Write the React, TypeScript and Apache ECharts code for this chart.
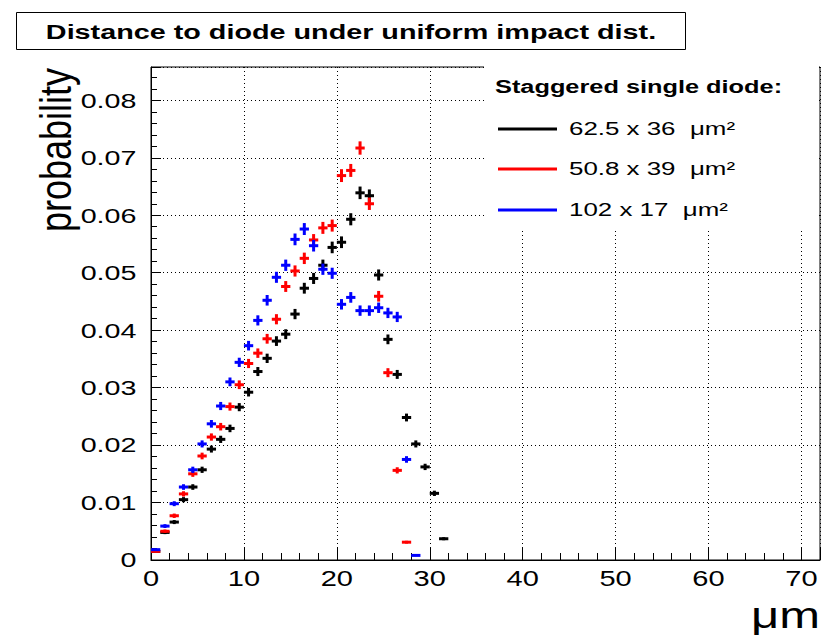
import React, { useEffect, useRef } from "react";
import * as echarts from "echarts";

// ---- data ----
const binCenters = [
  0.5, 1.5, 2.5, 3.5, 4.5, 5.5, 6.5, 7.5, 8.5, 9.5,
  10.5, 11.5, 12.5, 13.5, 14.5, 15.5, 16.5, 17.5, 18.5, 19.5,
  20.5, 21.5, 22.5, 23.5, 24.5, 25.5, 26.5, 27.5, 28.5, 29.5,
  30.5, 31.5,
];
const blackVals = [
  0.0015, 0.0048, 0.0066, 0.0105, 0.0127, 0.0157, 0.0193, 0.0210, 0.0229, 0.0266,
  0.0292, 0.0328, 0.0351, 0.0381, 0.0393, 0.0428, 0.0473, 0.0490, 0.0513, 0.0544,
  0.0553, 0.0593, 0.0639, 0.0634, 0.0496, 0.0384, 0.0323, 0.0248, 0.0202, 0.0162,
  0.0116, 0.0037,
];
const redVals = [
  0.0015, 0.0050, 0.0077, 0.0115, 0.0150, 0.0181, 0.0214, 0.0232, 0.0267, 0.0305,
  0.0342, 0.0360, 0.0385, 0.0419, 0.0476, 0.0503, 0.0525, 0.0557, 0.0578, 0.0582,
  0.0669, 0.0678, 0.0717, 0.0620, 0.0459, 0.0326, 0.0156, 0.0031,
];
const blueVals = [
  0.0018, 0.0059, 0.0098, 0.0127, 0.0157, 0.0202, 0.0237, 0.0268, 0.0310, 0.0344,
  0.0373, 0.0417, 0.0452, 0.0492, 0.0513, 0.0558, 0.0576, 0.0547, 0.0506, 0.0499,
  0.0445, 0.0457, 0.0434, 0.0434, 0.0439, 0.0430, 0.0423, 0.0175, 0.0008,
];
const seriesNames = ["62.5 x 36  \u03bcm\u00b2", "50.8 x 39  \u03bcm\u00b2", "102 x 17  \u03bcm\u00b2"];
const seriesColors = ["#000000", "#ff0000", "#0000ff"];
const xTickValues = [0, 10, 20, 30, 40, 50, 60, 70];
const xTickLabels = ["0", "10", "20", "30", "40", "50", "60", "70"];
const yTickValues = [0, 0.01, 0.02, 0.03, 0.04, 0.05, 0.06, 0.07, 0.08];
const yTickLabels = ["0", "0.01", "0.02", "0.03", "0.04", "0.05", "0.06", "0.07", "0.08"];
const titleText = "Distance to diode under uniform impact dist.";
const legendHeader = "Staggered single diode:";
const xTitle = "\u03bcm";
const yTitle = "probability";

const BIN_WIDTH = 1;
const ERR_SCALE = 0.00433; // statistical error ~ ERR_SCALE * sqrt(p)

const FONT = "'Liberation Sans', Arial, Helvetica, sans-serif";

function makeSeries(name: string, vals: number[], color: string) {
  return {
    type: "custom",
    name,
    xAxisIndex: 0,
    yAxisIndex: 0,
    clip: false,
    data: vals.map((v, i) => [binCenters[i], v]),
    encode: { x: 0, y: 1 },
    renderItem: (params: any, api: any) => {
      const x = api.value(0);
      const y = api.value(1);
      const err = ERR_SCALE * Math.sqrt(y);
      const l = api.coord([x - BIN_WIDTH / 2, y]);
      const r = api.coord([x + BIN_WIDTH / 2, y]);
      const t = api.coord([x, y + err]);
      const b = api.coord([x, y - err]);
      return {
        type: "group",
        children: [
          { type: "line", shape: { x1: l[0], y1: l[1], x2: r[0], y2: r[1] }, style: { stroke: color, lineWidth: 3 } },
          { type: "line", shape: { x1: t[0], y1: t[1], x2: b[0], y2: b[1] }, style: { stroke: color, lineWidth: 3 } },
        ],
      };
    },
  };
}

function txt(opts: any) {
  const { text, x, y, font, align, valign, scaleX, scaleY, rotation, z } = opts;
  return {
    type: "text",
    x,
    y,
    scaleX: scaleX ?? 1,
    scaleY: scaleY ?? 1,
    rotation: rotation ?? 0,
    z: z ?? 20,
    style: {
      text,
      font,
      fill: "#000",
      align,
      textAlign: align,
      verticalAlign: valign ?? "middle",
      textVerticalAlign: valign ?? "middle",
    },
  };
}

export default function App() {
  const ref = useRef<HTMLDivElement>(null);
  useEffect(() => {
    if (!ref.current) return;
    const chart = echarts.init(ref.current, undefined, { renderer: "svg" });
    const dotted = { color: "#000", width: 1, type: [1, 3] as any };
    chart.setOption({
      animation: false,
      backgroundColor: "#ffffff",
      grid: { left: 151, top: 67, right: 10, bottom: 78, show: true, borderColor: "#000", borderWidth: 1 },
      xAxis: [
        {
          type: "value", min: 0, max: 72, interval: 10, position: "bottom",
          axisLine: { show: true, lineStyle: { color: "#000", width: 1 } },
          axisTick: { show: true, inside: true, length: 13, lineStyle: { color: "#000", width: 1 } },
          axisLabel: { show: false },
          splitLine: { show: true, lineStyle: dotted },
        },
        {
          type: "value", min: 0, max: 72, interval: 2, position: "bottom",
          axisLine: { show: false },
          axisTick: { show: true, inside: true, length: 7, lineStyle: { color: "#000", width: 1 } },
          axisLabel: { show: false },
          splitLine: { show: false },
        },
      ],
      yAxis: [
        {
          type: "value", min: 0, max: 0.0858, interval: 0.01, position: "left",
          axisLine: { show: true, lineStyle: { color: "#000", width: 1 } },
          axisTick: { show: true, inside: true, length: 10, lineStyle: { color: "#000", width: 1 } },
          axisLabel: { show: false },
          splitLine: { show: true, lineStyle: dotted },
        },
        {
          type: "value", min: 0, max: 0.0858, interval: 0.002, position: "left",
          axisLine: { show: false },
          axisTick: { show: true, inside: true, length: 6, lineStyle: { color: "#000", width: 1 } },
          axisLabel: { show: false },
          splitLine: { show: false },
        },
      ],
      series: [
        makeSeries(seriesNames[0], blackVals, seriesColors[0]),
        makeSeries(seriesNames[1], redVals, seriesColors[1]),
        makeSeries(seriesNames[2], blueVals, seriesColors[2]),
      ],
    });

    const g: any[] = [];
    // tick labels placed through the axes' own scales
    xTickValues.forEach((v, i) => {
      const p = chart.convertToPixel({ gridIndex: 0 }, [v, 0]) as number[];
      g.push(txt({ text: xTickLabels[i], x: p[0], y: p[1] + 18.5, font: `21.5px ${FONT}`, align: "center", scaleX: 1.35 }));
    });
    yTickValues.forEach((v, i) => {
      const p = chart.convertToPixel({ gridIndex: 0 }, [0, v]) as number[];
      g.push(txt({ text: yTickLabels[i], x: p[0] - 14.5, y: p[1], font: `20.5px ${FONT}`, align: "right", scaleX: 1.4 }));
    });
    // title box
    g.push({ type: "rect", shape: { x: 16.5, y: 12.5, width: 669, height: 37 }, style: { fill: "#fff", stroke: "#000", lineWidth: 1 }, z: 10 });
    g.push(txt({ text: titleText, x: 351, y: 31, font: `bold 21px ${FONT}`, align: "center", scaleX: 1.37 }));
    // legend
    g.push({ type: "rect", shape: { x: 484, y: 62, width: 335, height: 169 }, style: { fill: "#fff" }, z: 10 });
    g.push(txt({ text: legendHeader, x: 495, y: 87, font: `bold 18.5px ${FONT}`, align: "left", scaleX: 1.37 }));
    const legendY = [129, 169, 210];
    seriesNames.forEach((n, i) => {
      g.push({ type: "line", shape: { x1: 498, y1: legendY[i], x2: 557, y2: legendY[i] }, style: { stroke: seriesColors[i], lineWidth: 3 }, z: 20 });
      g.push(txt({ text: n, x: 569, y: legendY[i], font: `17.5px ${FONT}`, align: "left", scaleX: 1.48 }));
    });
    // axis titles
    g.push(txt({ text: xTitle, x: 820, y: 615, font: `36px ${FONT}`, align: "right", scaleX: 1.36 }));
    g.push(txt({ text: yTitle, x: 56, y: 150, font: `36px ${FONT}`, align: "center", rotation: Math.PI / 2, scaleY: 1.22 }));

    chart.setOption({ graphic: { elements: g } });
    return () => chart.dispose();
  }, []);
  return <div ref={ref} style={{ position: "absolute", left: 0, top: 0, width: 830, height: 638 }} />;
}
